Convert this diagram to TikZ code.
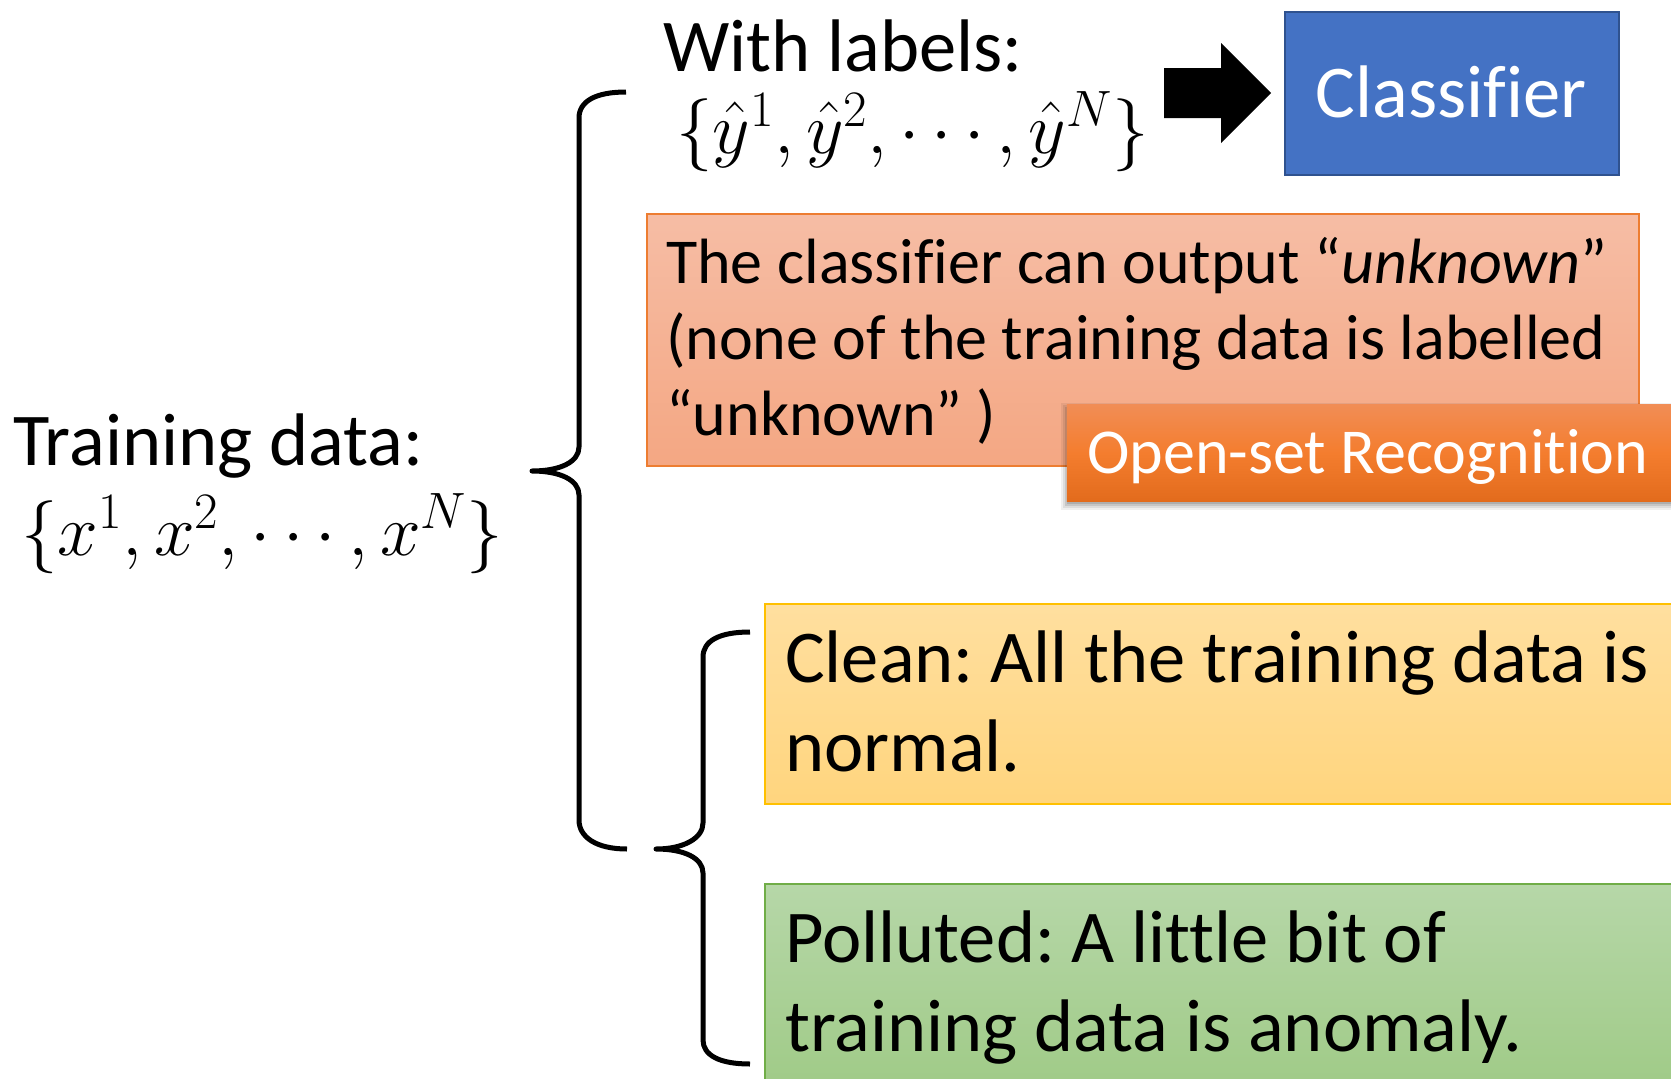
\documentclass[tikz,border=0pt]{standalone}
\usepackage{fix-cm}
\usepackage{fontspec}
\setmainfont{Carlito}[Ligatures=NoCommon]
\frenchspacing
\definecolor{clsfill}{HTML}{4472C4}
\definecolor{clsline}{HTML}{2F528F}
\definecolor{redtop}{HTML}{F6BDA5}
\definecolor{redbot}{HTML}{F4A783}
\definecolor{redline}{HTML}{ED7D31}
\definecolor{orgtop}{HTML}{F18D55}
\definecolor{orgmid}{HTML}{F47D2E}
\definecolor{orgbot}{HTML}{E26B1C}
\definecolor{yeltop}{HTML}{FFDF9F}
\definecolor{yelbot}{HTML}{FFD57E}
\definecolor{yelline}{HTML}{FFC000}
\definecolor{grntop}{HTML}{B6D7A8}
\definecolor{grnbot}{HTML}{9DC983}
\definecolor{grnline}{HTML}{70AD47}
\begin{document}
\begin{tikzpicture}[x=1pt,y=-1pt,
  panel/.style={line width=1.5pt, inner sep=0pt, anchor=north west},
  bigtext/.style={inner sep=0pt, anchor=base west, font=\fontsize{74.5}{89}\selectfont},
  mathtext/.style={inner sep=0pt, anchor=base west, font=\fontsize{73}{88}\selectfont},
  midtext/.style={inner sep=0pt, anchor=base west, font=\fontsize{64}{76}\selectfont},
  bracepath/.style={line width=5pt, line cap=butt, line join=round}]
\useasboundingbox (0,0) rectangle (1671,1079);
\clip (0,0) rectangle (1671,1079);

% left-hand label
\node[bigtext] (tdata) at (13,465) {Training data:};
\node[mathtext] (tset) at (21,555) {$\{x^1,x^2,\cdots,x^N\}$};

% outer brace
\draw[bracepath] (626,92) .. controls (596,92) and (579,101) .. (579,118)
  -- (579,447) .. controls (579,462) and (560,471) .. (532,471)
  .. controls (560,471) and (579,480) .. (579,495)
  -- (579,820) .. controls (579,837) and (596,849) .. (627,849);

% inner brace
\draw[bracepath] (750,632) .. controls (719,632) and (703,641) .. (703,657)
  -- (703,823) .. controls (703,838) and (684,849) .. (656,849)
  .. controls (684,849) and (703,858) .. (703,873)
  -- (703,1040) .. controls (703,1055) and (719,1064) .. (750,1064);

% supervised branch
\node[bigtext] (wlab) at (663,71) {With labels:};
\node[mathtext] (yset) at (676,153) {$\{\hat{y}^1,\hat{y}^2,\cdots,\hat{y}^N\}$};
\fill (1164,68) -- (1221,68) -- (1221,43) -- (1271,93) -- (1221,143) -- (1221,118) -- (1164,118) -- cycle;
\node[panel, draw=clsline, fill=clsfill, minimum width=334pt, minimum height=163pt] (clf) at (1284,11) {};
\node[bigtext, anchor=base, text=white] (clftxt) at (1451,117) {Classifier};

% open-set note
\node[panel, draw=redline, top color=redtop, bottom color=redbot, minimum width=992pt, minimum height=252pt] (note) at (646,213) {};
\node[midtext] (noteA) at (666,283) {The classifier can output “\textit{unknown}”};
\node[midtext] (noteB) at (666,359) {(none of the training data is labelled};
\node[midtext] (noteC) at (666,435) {“unknown” )};

% open-set tag with soft shadow
\foreach \s/\o in {7/0.06,5/0.08,3/0.10,1/0.12}
  \fill[black, opacity=\o] (1066-\s+2,404-\s+6) rectangle (1700,501+\s+2);
\node[panel, top color=orgtop, bottom color=orgbot, middle color=orgmid, minimum width=640pt, minimum height=97pt] (tag) at (1066,404) {};
\node[midtext, text=white] (tagtxt) at (1087,473) {Open-set Recognition};

% clean / polluted cases
\node[panel, draw=yelline, top color=yeltop, bottom color=yelbot, minimum width=940pt, minimum height=200pt] (clean) at (764,603) {};
\node[bigtext] (cleanA) at (785,682) {Clean: All the training data is};
\node[bigtext] (cleanB) at (785,771) {normal.};

\node[panel, draw=grnline, top color=grntop, bottom color=grnbot, minimum width=940pt, minimum height=230pt] (poll) at (764,883) {};
\node[bigtext] (pollA) at (785,962) {Polluted: A little bit of};
\node[bigtext] (pollB) at (785,1051) {training data is anomaly.};
\end{tikzpicture}
\end{document}
